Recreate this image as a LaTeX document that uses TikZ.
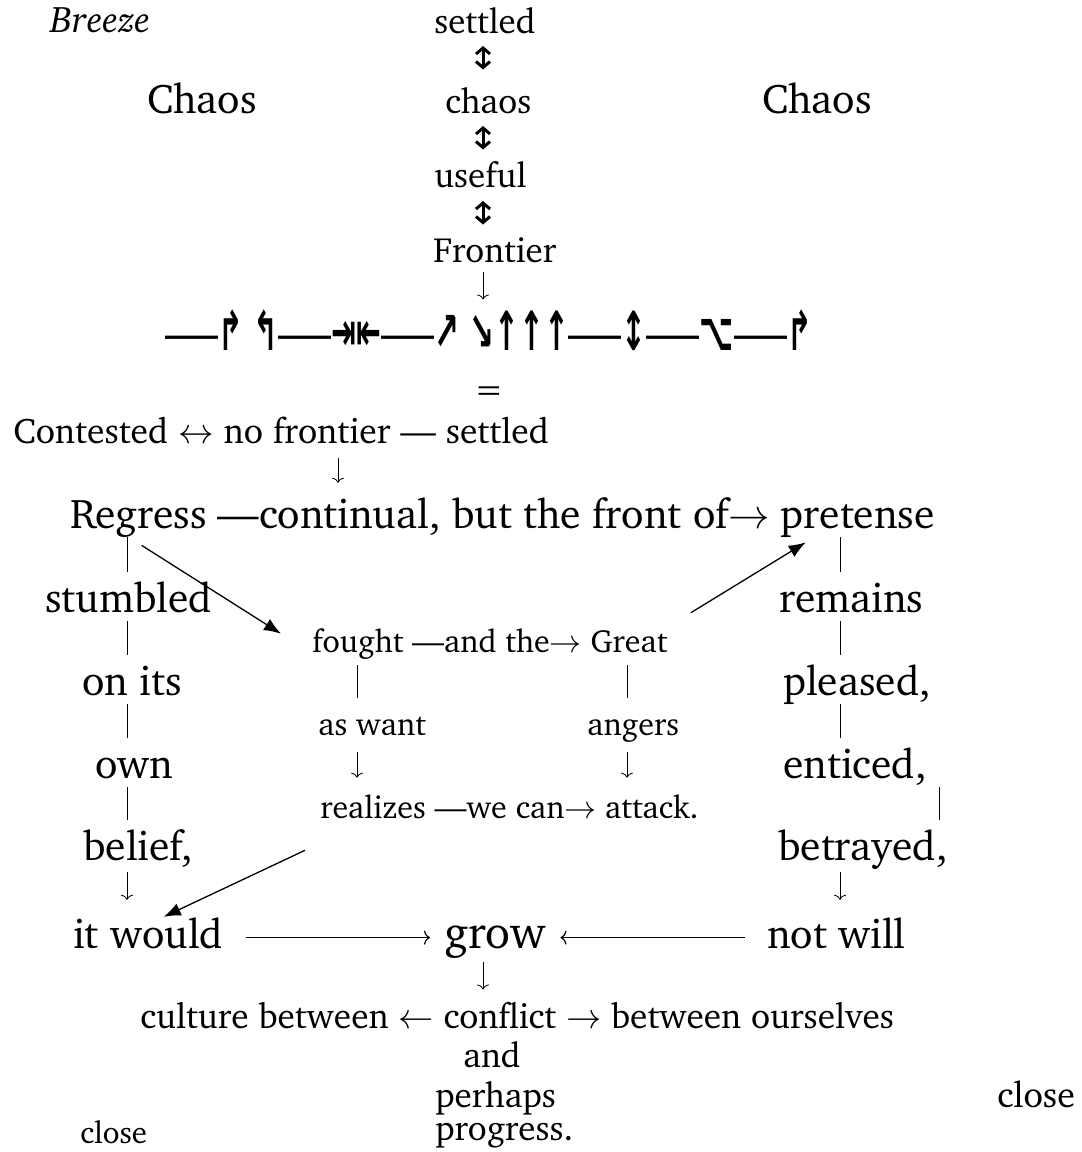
\RequirePackage{fix-cm}
\documentclass[tikz,border=0pt]{standalone}
\usepackage{fontspec}
\usepackage[T1]{fontenc}
\usepackage{charter}
\newfontfamily\arrowfont{DejaVu Sans}
\usetikzlibrary{arrows,arrows.meta,positioning}

\newcommand{\fsz}[1]{\fontsize{#1}{#1}\selectfont}
\newcommand{\rowdash}{{\fsz{53}---}}
\newcommand{\rowsym}[1]{\scalebox{0.55}[1]{\fsz{54}\arrowfont\bfseries #1}}

\begin{document}
\begin{tikzpicture}[x=1pt,y=-1pt,>=stealth',semithick]
\tikzstyle{word}=[inner sep=0,anchor=base west]
\tikzset{
	big word/.style={word,font=\fsz{41.5},text height=29.9pt,text depth=9.1pt},
	top word/.style={word,font=\fsz{35},text height=25.2pt,text depth=7.7pt},
	small word/.style={word,font=\fsz{32},text height=23pt,text depth=7pt},
	bar/.style={line width=0.8pt,shorten >=10pt},
	down/.style={line width=0.8pt,-{Computer Modern Rightarrow[length=5pt,width=12pt]}},
	updown/.style={line width=3pt,{Straight Barb[length=6pt,width=14pt]}-{Straight Barb[length=6pt,width=14pt]}},
	long/.style={line width=1.2pt,-{Computer Modern Rightarrow[length=6pt,width=14pt]},shorten <=22pt,shorten >=14pt},
	diag/.style={line width=1.3pt,-{Latex[length=17pt,width=13pt]}}
}
\useasboundingbox (0,0) rectangle (1082,1152);

% columns of the connectors
\coordinate (cM) at (483,0);
\coordinate (cL) at (127,0);
\coordinate (cR) at (840,0);
\coordinate (cRR) at (939,0);
\coordinate (cA) at (357,0);
\coordinate (cB) at (627,0);
\coordinate (cC) at (338,0);

% top
\node[word,font=\itshape\fsz{37}] (Br) at (50,32) {Breeze};
\node[top word] (Se) at (434,33) {settled};
\node[big word] (ChL) at (147,113) {Chaos};
\node[top word] (Ch) at (445,113) {chaos};
\node[big word] (ChR) at (762,113) {Chaos};
\node[top word] (Us) at (434,187) {useful};
\node[top word] (Fr) at (433,262) {Frontier};
\node[top word] (Row) at (165,350) {\rowdash\rowsym{↱ ↰}\rowdash\rowsym{⇥⇤}\rowdash\rowsym{↗ ↘↑↑↑}\rowdash\rowsym{↕}\rowdash\rowsym{⌥}\rowdash\rowsym{↱}};
\node[top word] (Eq) at (474,401) {=};
\node[top word,font=\fsz{35.6}] (Co) at (13,443) {Contested $\leftrightarrow$ no frontier --- settled};

% regress line
\node[big word] (Rg) at (70,528) {Regress};
\node[big word] (Cn) at ([xshift=10pt]Rg.base east) {---continual, but the front of$\rightarrow$};
\node[big word] (Pr) at ([xshift=10pt]Cn.base east) {pretense};

% left and right columns
\node[big word] (St) at (45,612) {stumbled};
\node[big word] (On) at (82,695) {on its};
\node[big word] (Ow) at (95,778) {own};
\node[big word] (Be) at (83,860) {belief,};
\node[big word] (Iw) at (73,948) {it would};
\node[big word] (Rm) at (779,612) {remains};
\node[big word] (Pl) at (783,695) {pleased,};
\node[big word] (En) at (783,778) {enticed,};
\node[big word] (Bt) at (778,860) {betrayed,};
\node[big word] (Nw) at (767,948) {not will};
\node[word,font=\fsz{46},text height=33pt,text depth=10pt] (Gw) at (444,948) {grow};

% middle block
\node[small word] (Fo) at (312,652) {fought};
\node[small word] (Ad) at ([xshift=8pt]Fo.base east) {---and the$\rightarrow$};
\node[small word] (Gr) at ([xshift=8pt]Ad.base east) {Great};
\node[small word] (Aw) at (318,735) {as want};
\node[small word] (Ag) at (587,735) {angers};
\node[small word] (Re) at (320,818) {realizes};
\node[small word] (Wc) at ([xshift=8pt]Re.base east) {---we can$\rightarrow$};
\node[small word] (Ak) at ([xshift=8pt]Wc.base east) {attack.};

% bottom
\node[top word,font=\fsz{35.3}] (Cu) at (140,1028) {culture between $\leftarrow$ conflict $\rightarrow$ between ourselves};
\node[top word] (Nd) at (463,1067) {and};
\node[top word] (Ph) at (435,1107) {perhaps};
\node[top word] (Pg) at (435,1140) {progress.};
\node[word,font=\fsz{36}] (ClR) at (997,1107) {close};
\node[word,font=\fsz{31}] (ClL) at (80,1143) {close};

\path[updown] (Se.south -| cM) edge[shorten <=5pt,shorten >=18pt] (Ch.north -| cM);
\path[updown] (Ch.south -| cM) edge[shorten <=5pt,shorten >=12pt] (Us.north -| cM);
\path[updown] (Us.south -| cM) edge[shorten <=6pt,shorten >=12pt] (Fr.north -| cM);
\path[down] (Fr.south -| cM) edge[shorten <=2pt,shorten >=25pt] (Row.north -| cM);
\path[down] (Co.south -| cC) edge[shorten <=7pt,shorten >=15pt] (Rg.north -| cC);

\path[bar] (Rg.south -| cL) edge (St.north -| cL);
\path[bar] (St.south -| cL) edge (On.north -| cL);
\path[bar] (On.south -| cL) edge (Ow.north -| cL);
\path[bar] (Ow.south -| cL) edge (Be.north -| cL);
\path[down] (Be.south -| cL) edge[shorten <=3pt,shorten >=18pt] (Iw.north -| cL);

\path[bar] (Pr.south -| cR) edge (Rm.north -| cR);
\path[bar] (Rm.south -| cR) edge (Pl.north -| cR);
\path[bar] (Pl.south -| cR) edge (En.north -| cR);
\path[bar] (En.south -| cRR) edge (Bt.north -| cRR);
\path[down] (Bt.south -| cR) edge[shorten <=3pt,shorten >=18pt] (Nw.north -| cR);

\path[bar] (Fo.south -| cA) edge[shorten <=6pt,shorten >=14pt] (Aw.north -| cA);
\path[bar] (Gr.south -| cB) edge[shorten <=6pt,shorten >=14pt] (Ag.north -| cB);
\path[down] (Aw.south -| cA) edge[shorten <=10pt,shorten >=17pt] (Re.north -| cA);
\path[down] (Ag.south -| cB) edge[shorten <=10pt,shorten >=17pt] (Ak.north -| cB);

\path[long] (Iw.east) edge (Iw.east -| Gw.west);
\path[long] (Nw.west) edge (Nw.west -| Gw.east);
\path[down] (Gw.south -| cM) edge[shorten <=4pt,shorten >=13pt] (Cu.north -| cM);

\draw[diag] ([shift={(3,8)}]Rg.south) -- ([shift={(-31,5)}]Fo.north west);
\draw[diag] ([shift={(23,-16)}]Gr.north east) -- ([shift={(25,5)}]Pr.south west);
\draw[diag] ([shift={(-15,25)}]Re.south west) -- ([shift={(-60,-1)}]Iw.north east);
\end{tikzpicture}
\end{document}
